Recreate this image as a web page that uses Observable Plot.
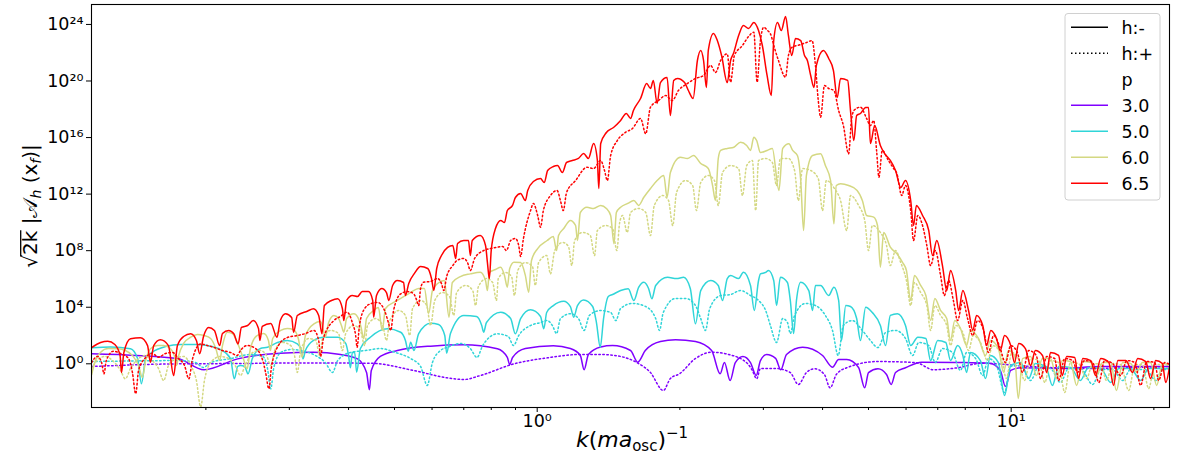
<!DOCTYPE html>
<html><head><meta charset="utf-8">
<script src="https://cdn.jsdelivr.net/npm/d3@7"></script>
<script src="https://cdn.jsdelivr.net/npm/@observablehq/plot@0.6"></script>
<style>body{margin:0;background:#fff;} svg{display:block}</style>
</head><body><div id="chart"></div>
<script>
// Values, stored as [log10 k, log10 (sqrt(2k)|A_h(x_f)|)]
const p30_minus = [[-0.940,0.71],[-0.759,0.38],[-0.703,-0.42],[-0.632,0.35],[-0.542,0.75],[-0.472,0.82],[-0.415,0.66],[-0.379,0.35],[-0.360,-0.62],[-0.354,-1.84],[-0.350,-0.47],[-0.331,0.52],[-0.295,0.94],[-0.225,1.25],[-0.155,1.34],[-0.084,1.06],[-0.063,0.45],[-0.058,-0.05],[-0.052,0.45],[-0.025,1.08],[0.034,1.27],[0.070,1.08],[0.091,0.59],[0.099,-0.42],[0.108,0.66],[0.134,1.19],[0.159,1.29],[0.197,0.94],[0.212,0.11],[0.228,0.94],[0.260,1.58],[0.292,1.70],[0.334,1.58],[0.368,0.94],[0.386,-0.71],[0.395,0.09],[0.407,-1.18],[0.418,0.09],[0.434,0.52],[0.450,0.09],[0.462,-0.83],[0.471,0.23],[0.484,0.66],[0.503,0.38],[0.514,-0.42],[0.526,0.66],[0.560,1.17],[0.602,0.59],[0.623,-0.24],[0.636,0.30],[0.653,0.30],[0.678,-0.26],[0.691,-1.70],[0.699,-0.62],[0.719,-0.35],[0.737,-0.76],[0.747,-1.46],[0.756,-0.62],[0.777,-0.28],[0.811,0.11],[0.887,0.09],[0.954,0.04],[0.977,-0.47],[0.988,-1.61],[0.999,-0.47],[1.020,-0.28],[1.104,-0.33],[1.188,-0.19],[1.334,-0.19]];
const p30_plus = [[-0.940,-0.19],[-0.753,0.00],[-0.626,0.02],[-0.499,0.06],[-0.352,0.04],[-0.261,-0.47],[-0.190,-0.99],[-0.155,-1.11],[-0.120,-0.83],[-0.049,0.00],[0.021,0.42],[0.091,0.66],[0.134,0.66],[0.176,0.52],[0.209,0.11],[0.239,-0.62],[0.266,-1.89],[0.281,-1.04],[0.300,-0.71],[0.334,0.38],[0.368,0.82],[0.404,0.66],[0.443,0.04],[0.454,-0.47],[0.463,-1.06],[0.471,-0.33],[0.503,-0.33],[0.534,-0.62],[0.551,-1.46],[0.568,-0.62],[0.585,-0.35],[0.606,-0.76],[0.618,-1.70],[0.631,-0.76],[0.653,-0.28],[0.718,0.16],[0.798,0.09],[0.836,-0.42],[0.887,-0.28],[0.938,0.04],[1.041,-0.19],[1.146,-0.33],[1.334,-0.19]];
const p50_minus = [[-0.940,1.13],[-0.900,1.19],[-0.858,1.06],[-0.843,0.37],[-0.835,-1.41],[-0.826,0.37],[-0.812,0.82],[-0.784,1.22],[-0.752,1.36],[-0.721,1.36],[-0.696,1.29],[-0.668,1.01],[-0.647,0.37],[-0.639,-1.06],[-0.632,-0.19],[-0.626,-0.12],[-0.617,-0.19],[-0.610,-0.71],[-0.601,0.37],[-0.584,1.08],[-0.569,1.17],[-0.548,1.51],[-0.527,1.65],[-0.506,1.41],[-0.497,0.94],[-0.494,0.35],[-0.489,0.94],[-0.472,1.65],[-0.451,1.88],[-0.421,1.88],[-0.404,1.44],[-0.398,0.59],[-0.394,-0.28],[-0.390,0.80],[-0.385,0.80],[-0.381,-0.59],[-0.373,1.08],[-0.352,1.88],[-0.316,2.48],[-0.288,2.23],[-0.278,1.65],[-0.272,0.89],[-0.267,1.53],[-0.260,0.94],[-0.250,2.14],[-0.225,2.87],[-0.208,2.78],[-0.195,2.00],[-0.191,0.75],[-0.183,2.14],[-0.155,3.42],[-0.128,3.35],[-0.117,2.71],[-0.113,2.24],[-0.107,2.92],[-0.077,3.65],[-0.056,3.20],[-0.046,2.12],[-0.035,3.20],[-0.014,3.82],[0.007,3.35],[0.014,2.48],[0.020,3.63],[0.034,4.12],[0.056,4.43],[0.070,4.05],[0.077,3.30],[0.085,4.12],[0.098,4.52],[0.117,4.05],[0.125,2.92],[0.133,1.17],[0.140,3.20],[0.150,4.76],[0.159,4.90],[0.176,5.18],[0.192,5.30],[0.204,4.48],[0.214,5.40],[0.225,5.77],[0.235,5.33],[0.242,4.60],[0.250,5.54],[0.275,6.12],[0.294,6.03],[0.309,6.12],[0.323,5.33],[0.334,2.83],[0.345,5.18],[0.366,5.89],[0.382,5.54],[0.391,4.48],[0.401,6.03],[0.408,6.24],[0.425,6.03],[0.435,6.48],[0.450,5.54],[0.458,3.77],[0.467,5.89],[0.471,6.36],[0.482,6.46],[0.488,6.60],[0.499,5.89],[0.505,4.12],[0.513,6.12],[0.528,5.75],[0.534,4.48],[0.541,2.14],[0.547,4.48],[0.556,5.77],[0.573,5.18],[0.581,3.77],[0.587,5.54],[0.598,5.54],[0.615,4.83],[0.626,5.42],[0.636,4.48],[0.642,1.65],[0.651,4.12],[0.661,4.05],[0.674,3.20],[0.682,1.65],[0.693,4.00],[0.707,3.63],[0.724,2.71],[0.735,1.29],[0.745,3.42],[0.760,3.54],[0.777,2.71],[0.788,1.29],[0.803,1.88],[0.820,1.79],[0.830,0.23],[0.845,1.65],[0.862,1.51],[0.872,0.23],[0.887,1.29],[0.898,0.59],[0.906,-0.61],[0.914,0.80],[0.935,0.23],[0.946,-1.04],[0.956,0.59],[0.973,0.09],[0.986,-2.24],[0.999,-0.12],[1.020,0.09],[1.037,-1.04],[1.051,0.02],[1.073,-0.19],[1.087,-1.53],[1.100,-0.19],[1.125,-0.26],[1.146,-1.18],[1.163,-0.26],[1.189,-0.33],[1.210,-1.32],[1.227,-0.33],[1.252,-0.33],[1.273,-1.18],[1.290,-0.33],[1.315,-0.33],[1.334,-0.33]];
const p50_plus = [[-0.940,0.16],[-0.858,0.20],[-0.752,0.23],[-0.721,0.09],[-0.704,-0.26],[-0.689,0.09],[-0.647,0.37],[-0.605,0.66],[-0.579,0.52],[-0.569,-0.33],[-0.562,-1.77],[-0.556,-0.33],[-0.541,0.80],[-0.520,1.01],[-0.499,0.94],[-0.468,0.59],[-0.447,0.09],[-0.432,-0.61],[-0.421,0.23],[-0.394,0.80],[-0.362,0.94],[-0.330,1.08],[-0.299,0.80],[-0.267,0.37],[-0.246,-0.19],[-0.232,-1.53],[-0.221,0.09],[-0.204,0.94],[-0.189,1.17],[-0.162,1.44],[-0.141,1.08],[-0.127,0.45],[-0.115,1.29],[-0.084,2.12],[-0.061,1.93],[-0.050,1.29],[-0.039,2.00],[-0.014,2.71],[0.007,2.92],[0.021,3.06],[0.032,2.71],[0.041,2.14],[0.049,3.20],[0.070,3.54],[0.087,3.20],[0.099,2.36],[0.110,3.42],[0.134,3.77],[0.155,3.63],[0.166,3.06],[0.176,3.91],[0.201,4.27],[0.229,4.05],[0.250,3.20],[0.258,2.36],[0.266,3.63],[0.292,4.62],[0.313,4.62],[0.334,4.12],[0.345,3.20],[0.355,2.36],[0.364,3.91],[0.387,4.83],[0.408,4.90],[0.429,5.18],[0.450,4.83],[0.467,4.48],[0.482,3.77],[0.492,2.71],[0.505,1.51],[0.518,3.20],[0.528,2.92],[0.534,2.14],[0.543,3.42],[0.566,4.27],[0.587,4.12],[0.608,3.42],[0.623,2.36],[0.635,0.59],[0.646,2.71],[0.665,3.06],[0.686,2.36],[0.703,1.65],[0.719,1.15],[0.735,2.21],[0.756,2.36],[0.777,1.79],[0.792,0.59],[0.805,1.51],[0.826,1.29],[0.840,0.09],[0.855,1.08],[0.876,0.80],[0.893,-0.47],[0.906,0.80],[0.925,0.37],[0.940,-0.83],[0.952,0.37],[0.969,-0.12],[0.986,-2.03],[0.999,-0.19],[1.020,-0.12],[1.041,-1.18],[1.058,-0.19],[1.083,-0.33],[1.104,-1.32],[1.121,-0.33],[1.146,-0.33],[1.172,-1.46],[1.189,-0.40],[1.214,-0.40],[1.235,-1.18],[1.252,-0.40],[1.284,-0.40],[1.305,-1.18],[1.319,-0.40],[1.334,-0.40]];
const p60_minus = [[-0.940,-0.76],[-0.932,0.23],[-0.921,0.82],[-0.905,1.08],[-0.885,1.06],[-0.869,0.94],[-0.854,0.59],[-0.841,-0.12],[-0.833,-0.97],[-0.826,0.23],[-0.816,1.06],[-0.801,1.29],[-0.788,1.29],[-0.774,1.08],[-0.765,0.52],[-0.761,-0.12],[-0.757,0.52],[-0.746,1.44],[-0.731,1.88],[-0.717,2.07],[-0.703,2.00],[-0.689,1.79],[-0.678,1.08],[-0.670,0.23],[-0.664,1.29],[-0.654,2.24],[-0.643,2.14],[-0.630,1.29],[-0.620,0.37],[-0.612,-0.35],[-0.605,1.08],[-0.591,2.00],[-0.577,2.14],[-0.567,1.65],[-0.563,0.94],[-0.558,1.79],[-0.541,2.36],[-0.527,2.50],[-0.514,2.41],[-0.504,1.79],[-0.496,0.47],[-0.489,2.00],[-0.471,2.83],[-0.457,2.99],[-0.451,2.36],[-0.447,1.88],[-0.440,2.92],[-0.429,3.42],[-0.419,3.20],[-0.413,2.71],[-0.408,2.24],[-0.402,3.20],[-0.387,3.54],[-0.377,3.20],[-0.371,2.50],[-0.366,1.77],[-0.360,3.20],[-0.345,3.77],[-0.335,3.98],[-0.327,2.36],[-0.320,3.91],[-0.295,4.48],[-0.267,5.04],[-0.250,5.33],[-0.238,5.33],[-0.229,3.56],[-0.221,5.18],[-0.210,5.68],[-0.196,5.89],[-0.186,3.30],[-0.179,5.75],[-0.162,6.17],[-0.141,6.36],[-0.120,6.48],[-0.109,5.89],[-0.105,5.18],[-0.101,6.46],[-0.088,6.67],[-0.077,6.83],[-0.069,6.25],[-0.063,5.42],[-0.058,6.74],[-0.049,7.19],[-0.035,7.16],[-0.025,6.25],[-0.018,5.06],[-0.012,7.31],[0.001,8.15],[0.021,8.72],[0.034,9.00],[0.041,8.01],[0.045,9.07],[0.056,9.57],[0.070,10.14],[0.081,9.78],[0.085,8.72],[0.091,10.70],[0.105,11.07],[0.119,10.98],[0.134,11.20],[0.146,10.98],[0.155,10.49],[0.162,8.49],[0.167,10.70],[0.176,11.07],[0.191,11.34],[0.204,11.55],[0.214,11.20],[0.225,11.78],[0.239,12.40],[0.253,12.96],[0.267,13.32],[0.274,11.78],[0.281,13.53],[0.302,14.61],[0.317,14.52],[0.330,14.73],[0.345,14.17],[0.361,13.81],[0.370,12.61],[0.376,11.55],[0.382,14.52],[0.387,15.09],[0.401,15.23],[0.415,15.32],[0.429,15.67],[0.442,15.44],[0.450,15.09],[0.457,16.03],[0.463,15.79],[0.471,14.94],[0.485,15.09],[0.496,15.23],[0.510,12.26],[0.518,15.23],[0.531,15.56],[0.539,15.09],[0.549,14.73],[0.556,12.96],[0.562,9.43],[0.568,13.32],[0.581,14.73],[0.598,14.85],[0.608,14.02],[0.619,12.96],[0.626,9.90],[0.631,12.61],[0.640,12.73],[0.657,12.61],[0.675,12.26],[0.686,11.55],[0.695,10.49],[0.710,10.37],[0.718,9.78],[0.724,6.83],[0.731,9.29],[0.745,8.25],[0.759,7.78],[0.771,7.16],[0.779,6.60],[0.788,4.48],[0.796,6.25],[0.809,5.54],[0.820,4.83],[0.830,3.06],[0.839,4.62],[0.851,3.77],[0.864,3.20],[0.872,1.65],[0.881,3.06],[0.893,2.50],[0.906,1.29],[0.914,2.36],[0.931,1.79],[0.946,0.59],[0.956,1.65],[0.973,1.08],[0.984,-0.61],[0.994,0.94],[1.007,0.59],[1.015,-2.45],[1.024,0.37],[1.041,0.52],[1.053,-0.83],[1.066,0.37],[1.083,0.37],[1.096,-1.04],[1.108,0.23],[1.125,0.16],[1.138,-1.53],[1.151,0.16],[1.168,0.09],[1.180,-0.83],[1.193,0.09],[1.210,0.09],[1.222,-1.89],[1.235,0.09],[1.252,0.02],[1.265,-0.61],[1.277,0.09],[1.294,0.09],[1.307,-1.53],[1.319,0.02],[1.334,-0.05]];
const p60_plus = [[-0.940,-0.33],[-0.925,0.37],[-0.911,0.52],[-0.896,0.23],[-0.879,-0.47],[-0.869,-1.06],[-0.858,-0.33],[-0.841,0.37],[-0.826,0.59],[-0.812,0.23],[-0.799,-0.33],[-0.788,-1.18],[-0.778,-0.12],[-0.763,0.37],[-0.746,0.52],[-0.731,-0.12],[-0.719,-1.18],[-0.710,-3.05],[-0.702,-1.18],[-0.689,0.09],[-0.668,0.52],[-0.651,0.37],[-0.636,-0.19],[-0.626,-0.83],[-0.617,-0.19],[-0.600,0.80],[-0.584,0.94],[-0.571,0.59],[-0.562,-0.12],[-0.554,0.94],[-0.537,1.51],[-0.520,1.29],[-0.512,0.59],[-0.506,-0.61],[-0.499,0.94],[-0.482,1.79],[-0.467,1.65],[-0.459,0.59],[-0.453,1.79],[-0.436,2.36],[-0.419,2.14],[-0.411,0.94],[-0.404,2.14],[-0.387,2.71],[-0.373,2.36],[-0.364,1.29],[-0.358,2.71],[-0.341,3.20],[-0.326,2.71],[-0.318,1.65],[-0.311,3.06],[-0.292,3.77],[-0.278,3.42],[-0.269,2.00],[-0.263,3.91],[-0.246,4.48],[-0.233,4.12],[-0.225,2.71],[-0.216,4.48],[-0.200,5.04],[-0.185,4.76],[-0.176,3.42],[-0.170,5.04],[-0.151,5.54],[-0.136,5.18],[-0.130,4.12],[-0.124,5.47],[-0.107,6.03],[-0.094,5.75],[-0.086,4.48],[-0.082,6.03],[-0.067,6.46],[-0.054,6.17],[-0.048,4.83],[-0.041,6.60],[-0.025,7.16],[-0.010,6.88],[-0.004,5.54],[0.003,7.16],[0.020,7.66],[0.028,6.36],[0.037,8.01],[0.054,8.58],[0.066,8.30],[0.073,6.95],[0.079,8.72],[0.096,9.29],[0.112,9.07],[0.121,7.66],[0.127,9.43],[0.144,9.78],[0.159,9.57],[0.168,8.01],[0.174,9.99],[0.180,10.49],[0.190,9.29],[0.197,10.70],[0.214,10.98],[0.229,10.70],[0.239,9.07],[0.247,11.20],[0.265,11.90],[0.277,11.55],[0.286,9.78],[0.294,12.12],[0.313,12.96],[0.328,12.61],[0.336,10.84],[0.345,12.82],[0.361,13.32],[0.374,12.96],[0.382,11.20],[0.391,13.53],[0.408,14.02],[0.425,13.81],[0.433,11.90],[0.442,14.02],[0.454,14.38],[0.461,10.84],[0.467,14.38],[0.482,14.52],[0.496,14.24],[0.505,12.61],[0.513,14.52],[0.530,14.52],[0.543,13.67],[0.551,11.55],[0.560,13.81],[0.577,13.67],[0.593,13.10],[0.602,10.84],[0.610,12.96],[0.627,12.40],[0.640,11.55],[0.653,9.43],[0.661,11.90],[0.678,11.20],[0.691,10.14],[0.699,8.01],[0.707,9.78],[0.724,9.29],[0.737,8.37],[0.745,6.95],[0.756,8.01],[0.767,7.16],[0.779,5.89],[0.788,4.12],[0.796,5.75],[0.809,5.04],[0.822,4.12],[0.830,2.36],[0.839,4.12],[0.851,3.42],[0.864,2.71],[0.872,1.29],[0.883,2.71],[0.898,2.21],[0.910,0.94],[0.920,2.00],[0.935,1.51],[0.950,0.23],[0.961,1.29],[0.977,0.80],[0.990,-1.04],[1.001,0.80],[1.015,0.37],[1.028,-1.18],[1.041,0.37],[1.058,0.23],[1.071,-1.32],[1.083,0.23],[1.100,0.09],[1.113,-2.03],[1.125,0.09],[1.142,0.02],[1.159,-1.04],[1.172,0.02],[1.189,-0.05],[1.201,-1.18],[1.214,0.02],[1.231,-0.05],[1.248,-1.89],[1.261,-0.05],[1.277,-0.05],[1.290,-1.75],[1.303,-0.05],[1.319,-0.05],[1.334,-0.12]];
const p65_minus = [[-0.940,1.15],[-0.921,1.51],[-0.906,1.60],[-0.891,1.37],[-0.880,0.59],[-0.877,-0.62],[-0.872,0.80],[-0.858,1.77],[-0.837,1.84],[-0.822,1.29],[-0.816,0.11],[-0.809,1.29],[-0.795,1.70],[-0.778,1.29],[-0.767,-0.83],[-0.759,1.29],[-0.746,1.93],[-0.731,2.12],[-0.719,1.65],[-0.712,0.71],[-0.704,1.93],[-0.693,2.57],[-0.681,2.36],[-0.670,1.29],[-0.664,2.14],[-0.651,2.36],[-0.640,2.12],[-0.631,1.41],[-0.624,2.57],[-0.611,2.71],[-0.599,3.06],[-0.588,2.49],[-0.585,1.65],[-0.580,2.64],[-0.562,2.85],[-0.549,1.88],[-0.542,3.06],[-0.531,3.54],[-0.518,3.27],[-0.514,2.24],[-0.506,3.42],[-0.485,3.72],[-0.472,3.89],[-0.461,3.42],[-0.454,2.12],[-0.449,4.12],[-0.434,4.48],[-0.421,4.60],[-0.411,3.91],[-0.408,3.06],[-0.402,4.48],[-0.390,4.83],[-0.379,4.76],[-0.369,5.11],[-0.356,5.11],[-0.347,4.48],[-0.345,3.30],[-0.339,4.83],[-0.328,5.33],[-0.318,5.04],[-0.313,4.48],[-0.305,5.54],[-0.295,5.89],[-0.282,5.75],[-0.278,4.83],[-0.271,5.68],[-0.259,6.39],[-0.246,6.88],[-0.231,6.74],[-0.223,6.03],[-0.218,5.18],[-0.212,6.74],[-0.202,7.66],[-0.189,8.23],[-0.178,8.37],[-0.172,7.45],[-0.168,8.51],[-0.155,8.72],[-0.145,8.72],[-0.141,7.66],[-0.137,8.72],[-0.120,9.07],[-0.109,8.37],[-0.105,7.16],[-0.101,6.03],[-0.097,8.01],[-0.088,9.57],[-0.077,10.14],[-0.069,9.99],[-0.063,10.84],[-0.052,11.20],[-0.046,11.76],[-0.035,12.04],[-0.025,11.55],[-0.020,12.26],[-0.008,12.89],[0.007,13.10],[0.015,12.82],[0.022,13.67],[0.034,13.95],[0.043,14.02],[0.053,13.53],[0.062,14.24],[0.074,14.38],[0.087,14.52],[0.098,14.87],[0.108,14.52],[0.119,15.58],[0.127,14.38],[0.130,12.40],[0.134,15.58],[0.146,16.36],[0.161,16.71],[0.176,17.21],[0.188,17.70],[0.197,17.35],[0.203,17.91],[0.218,18.76],[0.231,19.82],[0.239,19.47],[0.245,20.04],[0.253,18.41],[0.260,19.89],[0.274,20.25],[0.281,17.56],[0.288,20.04],[0.296,20.18],[0.311,19.89],[0.319,19.33],[0.329,18.76],[0.338,21.45],[0.345,22.16],[0.351,21.45],[0.357,19.54],[0.361,22.16],[0.372,23.36],[0.380,22.86],[0.389,21.80],[0.401,19.89],[0.408,21.45],[0.414,21.94],[0.425,23.22],[0.435,23.93],[0.446,23.71],[0.457,24.14],[0.467,23.57],[0.475,22.51],[0.485,20.39],[0.494,18.97],[0.499,22.86],[0.507,24.14],[0.515,23.57],[0.524,24.56],[0.530,23.22],[0.537,21.80],[0.545,23.01],[0.556,22.86],[0.564,21.80],[0.570,21.45],[0.577,20.39],[0.584,19.54],[0.589,21.10],[0.604,22.16],[0.615,21.59],[0.625,20.74],[0.633,18.83],[0.640,20.18],[0.655,20.04],[0.661,17.91],[0.668,15.79],[0.674,17.56],[0.682,17.70],[0.693,18.13],[0.699,18.13],[0.703,15.58],[0.712,16.85],[0.724,15.44],[0.733,14.87],[0.745,14.38],[0.756,13.67],[0.767,12.47],[0.777,12.96],[0.788,11.55],[0.794,9.78],[0.800,11.20],[0.813,10.49],[0.826,9.43],[0.834,7.66],[0.843,8.72],[0.855,6.95],[0.864,5.18],[0.872,6.60],[0.883,5.18],[0.889,3.77],[0.898,5.18],[0.910,3.77],[0.919,2.36],[0.927,3.42],[0.940,2.71],[0.948,1.29],[0.957,2.36],[0.969,1.79],[0.977,0.94],[0.986,2.00],[0.999,1.29],[1.007,0.09],[1.016,1.44],[1.030,1.08],[1.041,-0.12],[1.051,0.94],[1.066,0.59],[1.075,-0.61],[1.083,0.80],[1.100,0.59],[1.108,-0.83],[1.117,0.52],[1.134,0.45],[1.142,-1.04],[1.151,0.37],[1.168,0.23],[1.178,-0.83],[1.189,0.37],[1.206,0.09],[1.216,-1.53],[1.225,0.23],[1.242,0.23],[1.256,-0.61],[1.267,0.37],[1.284,0.16],[1.294,-1.04],[1.305,0.23],[1.319,0.02],[1.326,-1.32],[1.334,-0.19]];
const p65_plus = [[-0.940,0.09],[-0.928,0.52],[-0.919,0.09],[-0.914,-0.71],[-0.909,0.23],[-0.894,0.89],[-0.879,0.73],[-0.862,0.37],[-0.854,-0.61],[-0.847,-2.12],[-0.841,-0.47],[-0.826,0.45],[-0.812,0.73],[-0.799,0.47],[-0.784,0.73],[-0.769,0.80],[-0.757,0.37],[-0.744,-0.12],[-0.735,-1.06],[-0.727,0.37],[-0.710,1.41],[-0.696,1.29],[-0.683,1.17],[-0.664,0.94],[-0.647,0.80],[-0.633,0.59],[-0.626,0.94],[-0.612,1.29],[-0.594,1.08],[-0.579,0.23],[-0.573,-0.61],[-0.566,-1.77],[-0.561,-0.33],[-0.546,1.29],[-0.527,1.86],[-0.506,2.00],[-0.489,2.14],[-0.471,2.36],[-0.461,1.65],[-0.457,0.52],[-0.451,1.79],[-0.429,3.06],[-0.415,3.35],[-0.401,3.65],[-0.390,2.92],[-0.383,2.00],[-0.380,1.17],[-0.375,2.71],[-0.364,3.91],[-0.352,4.24],[-0.337,4.34],[-0.322,3.77],[-0.314,2.92],[-0.309,2.36],[-0.303,3.77],[-0.288,4.95],[-0.274,5.11],[-0.261,4.97],[-0.254,4.48],[-0.250,4.12],[-0.246,5.33],[-0.240,5.77],[-0.225,5.82],[-0.210,6.03],[-0.202,5.68],[-0.197,5.18],[-0.191,6.17],[-0.178,6.95],[-0.169,7.31],[-0.155,7.45],[-0.147,7.16],[-0.141,6.60],[-0.132,7.45],[-0.113,8.01],[-0.099,8.15],[-0.084,8.25],[-0.073,8.30],[-0.065,8.01],[-0.056,8.72],[-0.046,8.86],[-0.039,8.37],[-0.035,7.59],[-0.029,8.86],[-0.014,10.84],[-0.008,11.34],[0.001,10.49],[0.007,9.66],[0.013,10.84],[0.028,11.90],[0.042,12.26],[0.049,11.55],[0.055,10.84],[0.062,12.12],[0.081,12.96],[0.105,13.90],[0.119,13.81],[0.134,14.38],[0.142,13.67],[0.148,12.96],[0.155,14.73],[0.169,15.79],[0.186,16.36],[0.201,16.64],[0.218,17.35],[0.229,16.27],[0.239,18.15],[0.256,18.62],[0.271,18.97],[0.285,18.62],[0.298,19.33],[0.316,19.80],[0.334,20.18],[0.351,20.39],[0.366,21.10],[0.376,20.60],[0.387,21.45],[0.401,21.92],[0.408,19.92],[0.416,21.80],[0.433,22.51],[0.446,23.15],[0.457,23.45],[0.464,19.92],[0.471,22.86],[0.478,23.80],[0.486,23.57],[0.492,23.34],[0.501,22.30],[0.509,21.45],[0.524,20.27],[0.530,21.80],[0.538,22.39],[0.556,22.58],[0.568,22.72],[0.580,22.86],[0.587,21.10],[0.593,18.62],[0.598,17.44],[0.606,19.68],[0.615,19.47],[0.626,19.33],[0.636,17.91],[0.646,16.85],[0.657,14.85],[0.663,17.21],[0.668,17.91],[0.682,18.15],[0.695,17.35],[0.703,16.85],[0.710,17.21],[0.716,15.09],[0.721,13.20],[0.728,15.09],[0.741,14.38],[0.752,13.81],[0.759,13.44],[0.769,11.90],[0.777,12.61],[0.788,10.84],[0.794,8.72],[0.803,10.49],[0.813,9.78],[0.822,8.37],[0.830,6.95],[0.840,8.01],[0.851,6.25],[0.859,4.83],[0.868,5.89],[0.878,4.48],[0.887,3.06],[0.898,4.48],[0.908,3.20],[0.919,2.00],[0.929,3.06],[0.942,2.36],[0.952,0.80],[0.963,2.00],[0.975,1.29],[0.988,0.09],[0.999,1.29],[1.013,0.80],[1.024,-0.61],[1.037,0.94],[1.053,0.59],[1.062,-1.04],[1.075,0.52],[1.092,0.37],[1.100,-1.18],[1.113,0.37],[1.130,0.23],[1.140,-0.61],[1.155,0.23],[1.172,0.09],[1.185,-1.32],[1.197,0.23],[1.214,0.02],[1.231,-0.83],[1.244,0.23],[1.261,0.09],[1.273,-1.53],[1.286,0.16],[1.303,0.09],[1.311,-1.18],[1.324,0.09],[1.334,-0.05]];

const pLabels = ["3.0", "5.0", "6.0", "6.5"];
const hLabels = ["h:-", "h:+"];
const yTicks = [1e0, 1e4, 1e8, 1e12, 1e16, 1e20, 1e24];
const yTickLabels = ["10⁰", "10⁴", "10⁸", "10¹²", "10¹⁶", "10²⁰", "10²⁴"];
const xTicks = [1, 10];
const xTickLabels = ["10⁰", "10¹"];
const xMinorTicks = [0.2, 0.3, 0.4, 0.5, 0.6, 0.7, 0.8, 0.9, 2, 3, 4, 5, 6, 7, 8, 9, 20];

const colors = {"3.0": "#8000ff", "5.0": "#30d5d8", "6.0": "#d4d882", "6.5": "#ff0000"};
const dotted = "1.5,2.5";

const series = [
  {p: "3.0", h: "h:-", pts: p30_minus}, {p: "3.0", h: "h:+", pts: p30_plus},
  {p: "5.0", h: "h:-", pts: p50_minus}, {p: "5.0", h: "h:+", pts: p50_plus},
  {p: "6.0", h: "h:-", pts: p60_minus}, {p: "6.0", h: "h:+", pts: p60_plus},
  {p: "6.5", h: "h:-", pts: p65_minus}, {p: "6.5", h: "h:+", pts: p65_plus}
];
const toRows = pts => pts.map(([lk, la]) => ({k: 10 ** lk, A: 10 ** la}));

const lineMarks = series.map(s => Plot.line(toRows(s.pts), {
  x: "k", y: "A", stroke: colors[s.p], strokeWidth: 1.5, curve: "monotone-x", clip: true,
  ...(s.h === "h:+" ? {strokeDasharray: dotted} : {})
}));

const chart = Plot.plot({
  width: 1186, height: 462,
  marginLeft: 91, marginRight: 17, marginTop: 4, marginBottom: 55,
  x: {type: "log", domain: [10 ** -0.9403, 10 ** 1.334]},
  y: {type: "log", domain: [10 ** -3.09, 10 ** 25.41]},
  style: {fontFamily: "DejaVu Sans", fontSize: "17.5px", background: "#fff", color: "#000", overflow: "visible"},
  marks: [
    ...lineMarks,
    Plot.frame({stroke: "#000", strokeWidth: 1.1}),
    Plot.axisX(xTicks, {tickSize: 5, tickPadding: 2, label: null, fontSize: 17.5,
      tickFormat: d => xTickLabels[xTicks.indexOf(d)]}),
    Plot.axisX(xMinorTicks, {tickSize: 3, label: null, tickFormat: () => ""}),
    Plot.axisY(yTicks, {tickSize: 5, tickPadding: 3, label: null, fontSize: 17.5,
      tickFormat: d => yTickLabels[yTicks.indexOf(d)]})
  ]
});
document.getElementById("chart").appendChild(chart);

const svg = d3.select(chart);
const FONT = "DejaVu Sans";

// x label
const xl = svg.append("text").attr("x", 632).attr("y", 447).attr("text-anchor", "middle")
  .attr("font-family", FONT).attr("font-size", 22).attr("fill", "#000");
xl.append("tspan").attr("font-style", "italic").text("k");
xl.append("tspan").text("(");
xl.append("tspan").attr("font-style", "italic").text("ma");
xl.append("tspan").attr("font-size", 15).attr("dy", 4).text("osc");
xl.append("tspan").attr("dy", -4).text(")");
xl.append("tspan").attr("font-size", 15).attr("dy", -9).text("−1");

// y label
const yg = svg.append("g").attr("transform", "translate(37,206) rotate(-90)");
const yl = yg.append("text").attr("text-anchor", "middle").attr("font-family", FONT)
  .attr("font-size", 20).attr("fill", "#000");
yl.append("tspan").text("√");
yl.append("tspan").text("2k");
yl.append("tspan").text(" |");
yl.append("tspan").text("𝒜");
yl.append("tspan").attr("font-size", 14).attr("dy", 4).attr("font-style", "italic").text("h");
yl.append("tspan").attr("dy", -4).text(" (x");
yl.append("tspan").attr("font-size", 14).attr("dy", 4).attr("font-style", "italic").text("f");
yl.append("tspan").attr("dy", -4).text(")|");
{
  const n = yl.node();
  const L = n.getComputedTextLength();
  const w0 = n.getSubStringLength(0, 1);
  const w1 = n.getSubStringLength(1, 2);
  const x0 = -L / 2 + w0 - 1.5, x1 = -L / 2 + w0 + w1 + 0.5;
  yg.append("line").attr("x1", x0).attr("x2", x1).attr("y1", -16.3).attr("y2", -16.3)
    .attr("stroke", "#000").attr("stroke-width", 1.3);
}

// legend
const lg = svg.append("g").attr("font-family", FONT).attr("font-size", 17.5).attr("text-anchor", "start");
lg.append("rect").attr("x", 1065).attr("y", 13.5).attr("width", 95).attr("height", 186.5)
  .attr("rx", 3).attr("fill", "#fff").attr("fill-opacity", 0.8).attr("stroke", "#d0d0d0");
const legendRows = [
  {label: hLabels[0], color: "#000", dash: null},
  {label: hLabels[1], color: "#000", dash: dotted},
  {label: "p", color: null},
  ...pLabels.map(p => ({label: p, color: colors[p], dash: null}))
];
legendRows.forEach((r, i) => {
  const y = 27.3 + i * 26;
  if (r.color) {
    const ln = lg.append("line").attr("x1", 1071).attr("x2", 1108).attr("y1", y).attr("y2", y)
      .attr("stroke", r.color).attr("stroke-width", 1.5);
    if (r.dash) ln.attr("stroke-dasharray", r.dash);
  }
  lg.append("text").attr("x", 1121.5).attr("y", y).attr("dy", "0.36em")
    .attr("text-anchor", "start").attr("fill", "#000").text(r.label);
});
</script>
</body></html>
